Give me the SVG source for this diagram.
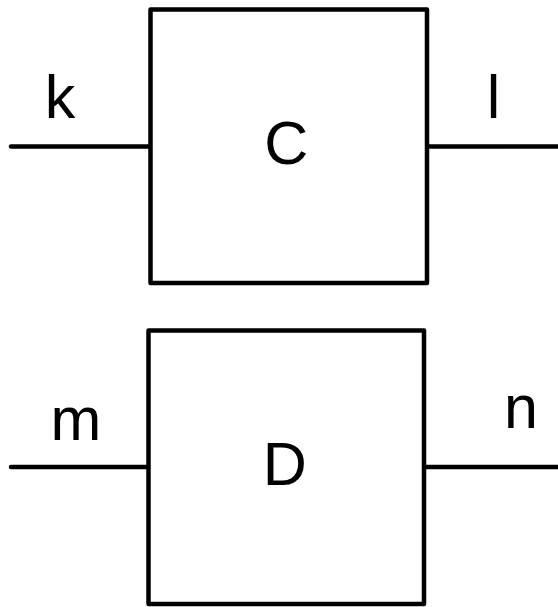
<svg xmlns="http://www.w3.org/2000/svg" width="558" height="607" viewBox="0 0 558 607">
<style>
.box{fill:#fff;stroke:#000;stroke-width:4.5;stroke-linejoin:round}
.wire{stroke:#000;stroke-width:4.5;stroke-linecap:round;fill:none}
text{font-family:"Liberation Sans",Arial,sans-serif;font-size:61px;fill:#000;text-anchor:middle}
</style>
<rect width="558" height="607" fill="#fff"/>
<g id="connectors">
<line class="wire" x1="11" y1="146.5" x2="150.5" y2="146.5"/>
<line class="wire" x1="427" y1="146.5" x2="560" y2="146.5"/>
<line class="wire" x1="11" y1="467" x2="148.5" y2="467"/>
<line class="wire" x1="424" y1="467" x2="560" y2="467"/>
<text x="60" y="118">k</text>
<text x="493.5" y="118">l</text>
<text x="76" y="440">m</text>
<text x="521" y="428">n</text>
</g>
<g id="C">
<rect class="box" x="150.5" y="9.5" width="276.5" height="273.5"/>
<text x="286.3" y="163.5">C</text>
</g>
<g id="D">
<rect class="box" x="148.5" y="330.5" width="275.5" height="273.5"/>
<text x="284.7" y="485">D</text>
</g>
</svg>
